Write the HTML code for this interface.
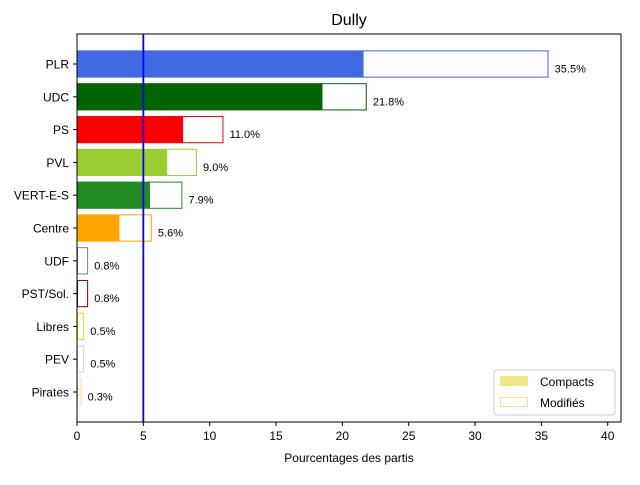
<!DOCTYPE html>
<html><head><meta charset="utf-8"><style>body{margin:0;background:#fff}svg{font-family:"Liberation Sans","DejaVu Sans",sans-serif}</style></head>
<body>
<svg id="c" width="640" height="480" xmlns="http://www.w3.org/2000/svg">
<text x="349" y="25" font-size="16" text-anchor="middle">Dully</text>
<g id="plot"></g>
</svg>
<script>
const parties=["PLR","UDC","PS","PVL","VERT-E-S","Centre","UDF","PST/Sol.","Libres","PEV","Pirates"];
const modified=[35.5,21.8,11.0,9.0,7.9,5.6,0.8,0.8,0.5,0.5,0.3];
const compact=[21.6,18.5,8.0,6.8,5.5,3.2,0,0,0,0,0];
const colors=["royalblue","darkgreen","red","yellowgreen","forestgreen","orange","gray","darkred","gold","lightgray","khaki"];
const xticks=[0,5,10,15,20,25,30,35,40];
const threshold=5;
const L=77,R=621,T=34,B=422,xmax=41;
const xs=v=>L+v/xmax*(R-L);
const step=(392-64)/10, ys=i=>64+i*step, bh=step*0.8;
const ns="http://www.w3.org/2000/svg", g=document.getElementById("plot");
function mk(t,a,txt){const e=document.createElementNS(ns,t);for(const k in a)e.setAttribute(k,a[k]);if(txt!==undefined)e.textContent=txt;g.appendChild(e);return e;}
parties.forEach((p,i)=>{
 const y=ys(i);
 const c=mk("rect",{x:xs(0),y:y-bh/2,width:xs(compact[i])-xs(0),height:bh,fill:colors[i]});
 
 
 const m=mk("rect",{x:xs(0)+0.5,y:y-bh/2,width:Math.max(xs(modified[i])-xs(0)-0.5,0.5),height:bh,fill:"none",stroke:colors[i],"stroke-width":1});
 
 
 const lb=mk("text",{x:xs(modified[i]+0.5),y:y+8.5,"font-size":11},modified[i].toFixed(1)+"%");
 
 
 mk("line",{x1:L-4,x2:L,y1:y,y2:y,stroke:"#000"});
 const tl=mk("text",{x:L-8,y:y+4.5,"font-size":12,"text-anchor":"end"},p);
 
 
});
const th=mk("line",{x1:xs(threshold),x2:xs(threshold),y1:T,y2:B,stroke:"blue","stroke-width":1.8});


const fr=mk("rect",{x:L,y:T,width:R-L,height:B-T,fill:"none",stroke:"#000","stroke-width":1});


xticks.forEach(t=>{
 mk("line",{x1:xs(t),x2:xs(t),y1:B,y2:B+4,stroke:"#000"});
 const e=mk("text",{x:xs(t),y:B+18,"font-size":12,"text-anchor":"middle"},t);
 
 
});
const xt=mk("text",{x:349,y:462,"font-size":12,"text-anchor":"middle"},"Pourcentages des partis");


const lg=mk("rect",{x:494,y:370,width:121,height:45,rx:3,fill:"#fff",stroke:"#ccc"});


mk("rect",{x:500,y:376,width:28,height:10,fill:"khaki"});
const l1=mk("text",{x:540,y:386,"font-size":12},"Compacts");


mk("rect",{x:500.5,y:397.5,width:27,height:9,fill:"none",stroke:"khaki"});
const l2=mk("text",{x:540,y:407,"font-size":12},"Modifiés");


</script>
</body></html>
